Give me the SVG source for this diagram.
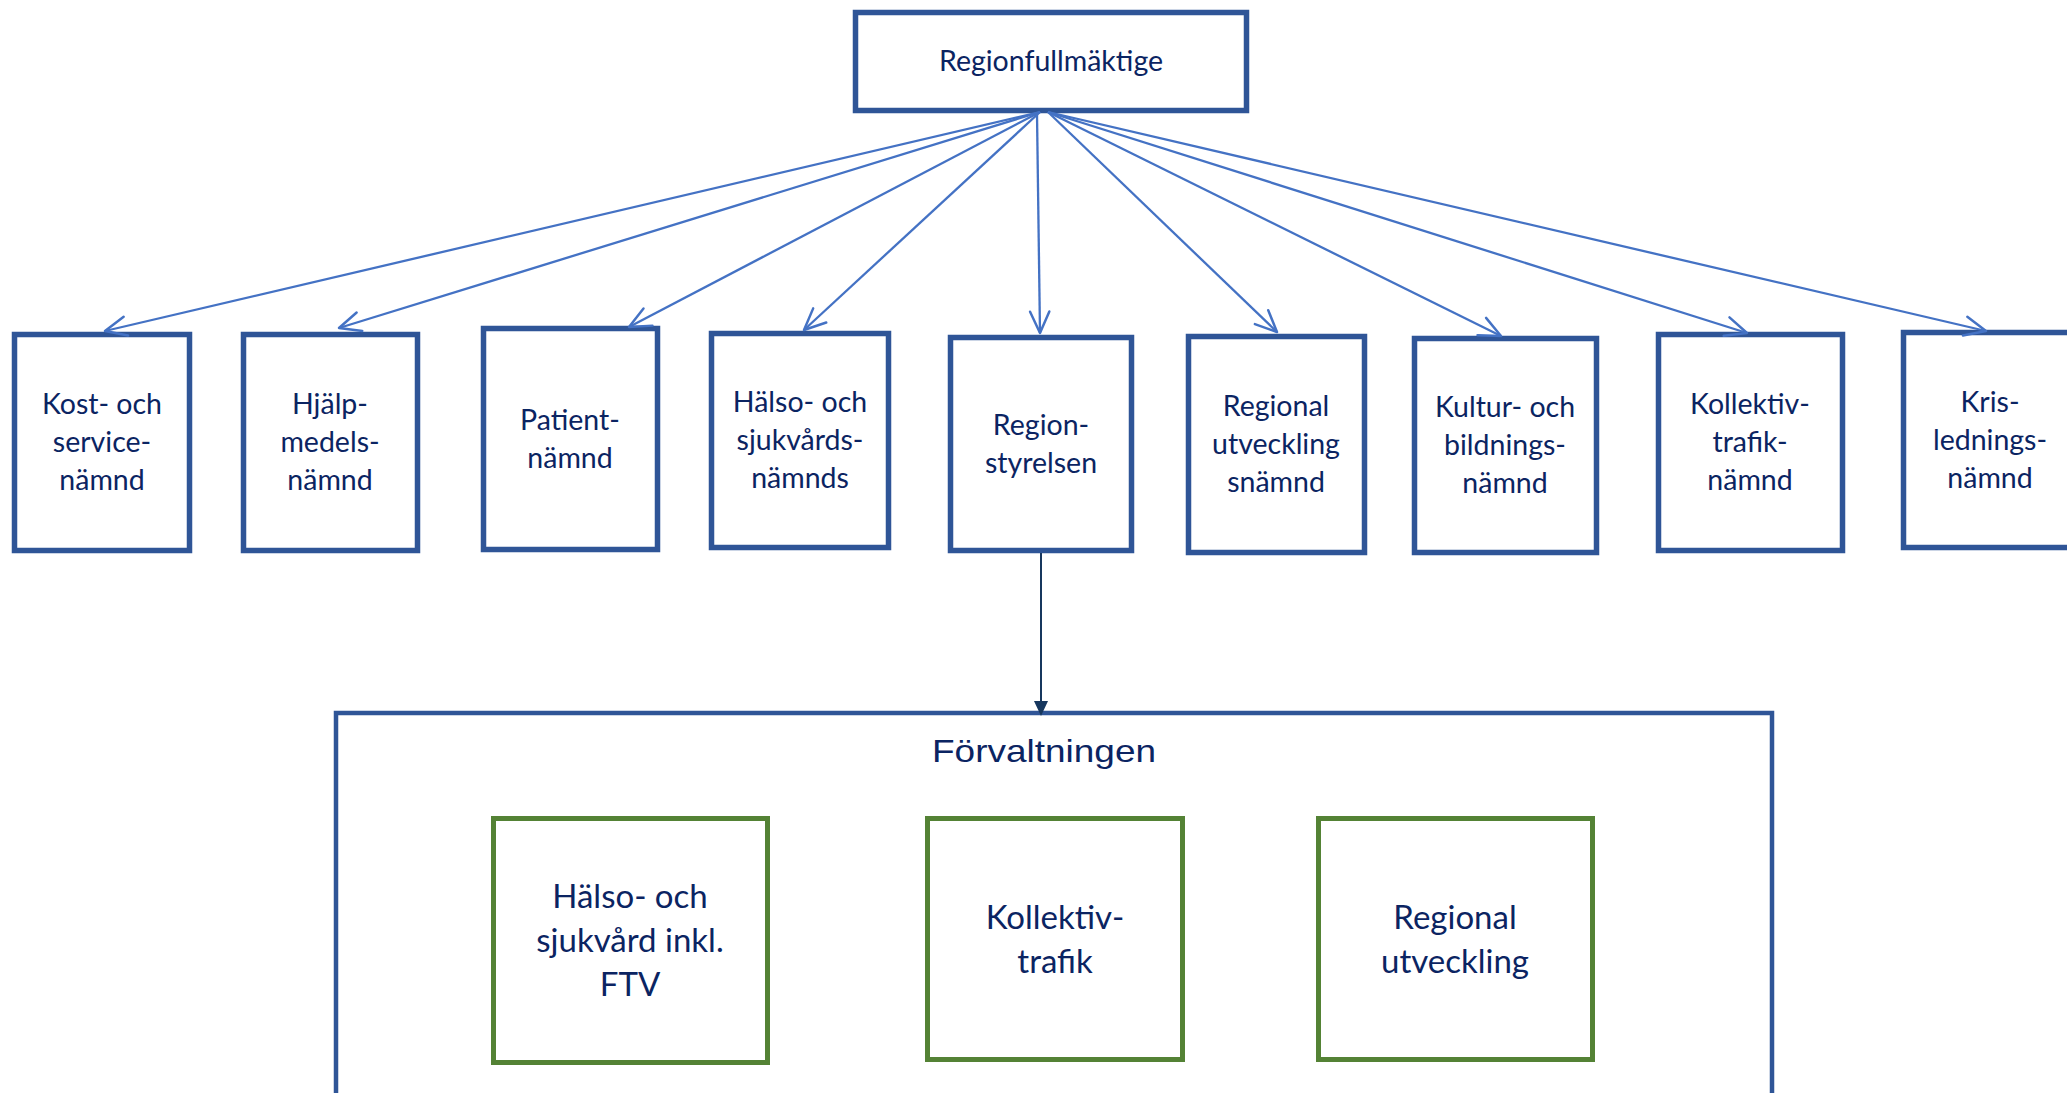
<svg xmlns="http://www.w3.org/2000/svg" width="2067" height="1093" viewBox="0 0 2067 1093">
<style>
.nb{fill:#fff;stroke:#2F5597;stroke-width:5.5}
.gb{fill:#fff;stroke:#548235;stroke-width:5}
.t{font-family:Lato,"Open Sans","Noto Sans",sans-serif;fill:#0B2462;text-anchor:middle;font-size:28.5px}
.tg{font-family:Lato,"Open Sans","Noto Sans",sans-serif;fill:#0B2462;text-anchor:middle;font-size:33px}
.c{fill:none;stroke:#4472C4;stroke-width:2.3;marker-end:url(#oa)}
</style>
<defs>
<marker id="oa" markerUnits="userSpaceOnUse" markerWidth="30" markerHeight="30" viewBox="-24 -12 28 24" refX="0" refY="0" orient="auto">
<path d="M-20,-9 L0,0 L-20,9" fill="none" stroke="#4472C4" stroke-width="2.3" stroke-linecap="round" stroke-linejoin="round"/>
</marker>
</defs>
<rect width="2067" height="1093" fill="#fff"/>
<g id="regionfullmaktige">
<rect class="nb" x="855.5" y="12.5" width="391" height="98"/>
<text class="t" x="1051" y="71">Regionfullmäktige</text>
</g>
<g id="kost">
<rect class="nb" x="14.5" y="334.5" width="175" height="216"/>
<text class="t" x="102" y="414">Kost- och</text><text class="t" x="102" y="452">service-</text><text class="t" x="102" y="490">nämnd</text>
</g>
<g id="hjalp">
<rect class="nb" x="243.5" y="334.5" width="174" height="216"/>
<text class="t" x="330" y="414">Hjälp-</text><text class="t" x="330" y="452">medels-</text><text class="t" x="330" y="490">nämnd</text>
</g>
<g id="patient">
<rect class="nb" x="483.5" y="328.5" width="174" height="221"/>
<text class="t" x="570" y="430">Patient-</text><text class="t" x="570" y="468">nämnd</text>
</g>
<g id="halso">
<rect class="nb" x="711.5" y="333.5" width="177" height="214"/>
<text class="t" x="800" y="412">Hälso- och</text><text class="t" x="800" y="450">sjukvårds-</text><text class="t" x="800" y="488">nämnds</text>
</g>
<g id="regionstyrelsen">
<rect class="nb" x="950.5" y="337.5" width="181" height="213"/>
<text class="t" x="1041" y="435">Region-</text><text class="t" x="1041" y="473">styrelsen</text>
</g>
<g id="regionalutv">
<rect class="nb" x="1188.5" y="336.5" width="176" height="216"/>
<text class="t" x="1276" y="416">Regional</text><text class="t" x="1276" y="454">utveckling</text><text class="t" x="1276" y="492">snämnd</text>
</g>
<g id="kultur">
<rect class="nb" x="1414.5" y="338.5" width="182" height="214"/>
<text class="t" x="1505" y="417">Kultur- och</text><text class="t" x="1505" y="455">bildnings-</text><text class="t" x="1505" y="493">nämnd</text>
</g>
<g id="kollektiv">
<rect class="nb" x="1658.5" y="334.5" width="184" height="216"/>
<text class="t" x="1750" y="414">Kollektiv-</text><text class="t" x="1750" y="452">trafik-</text><text class="t" x="1750" y="490">nämnd</text>
</g>
<g id="kris">
<rect class="nb" x="1903.5" y="332.5" width="177" height="215"/>
<text class="t" x="1990" y="412">Kris-</text><text class="t" x="1990" y="450">lednings-</text><text class="t" x="1990" y="488">nämnd</text>
</g>
<g id="forvaltningen">
<rect fill="#fff" stroke="#2F5597" stroke-width="4.5" x="336" y="713" width="1436" height="420"/>
<text x="1044" y="762" font-family="'Liberation Sans',Arial,sans-serif" font-size="32" fill="#0B2462" text-anchor="middle" textLength="224" lengthAdjust="spacingAndGlyphs">Förvaltningen</text>
</g>
<g id="hs">
<rect class="gb" x="493.5" y="818.5" width="274" height="244"/>
<text class="tg" x="630" y="908">Hälso- och</text><text class="tg" x="630" y="952">sjukvård inkl.</text><text class="tg" x="630" y="996">FTV</text>
</g>
<g id="kt">
<rect class="gb" x="927.5" y="818.5" width="255" height="241"/>
<text class="tg" x="1055" y="929">Kollektiv-</text><text class="tg" x="1055" y="973">trafik</text>
</g>
<g id="ru">
<rect class="gb" x="1318.5" y="818.5" width="274" height="241"/>
<text class="tg" x="1455" y="929">Regional</text><text class="tg" x="1455" y="973">utveckling</text>
</g>
<g id="connectors">
<line class="c" x1="1040" y1="112" x2="105" y2="331"/>
<line class="c" x1="1040" y1="112" x2="339" y2="328"/>
<line class="c" x1="1040" y1="112" x2="629" y2="327"/>
<line class="c" x1="1040" y1="112" x2="804" y2="330"/>
<line class="c" x1="1037" y1="114" x2="1040" y2="333"/>
<line class="c" x1="1048" y1="112" x2="1277" y2="332"/>
<line class="c" x1="1048" y1="112" x2="1501" y2="336"/>
<line class="c" x1="1048" y1="112" x2="1747" y2="333"/>
<line class="c" x1="1048" y1="112" x2="1986" y2="331"/>
<line x1="1041" y1="553" x2="1041" y2="703" stroke="#17375E" stroke-width="2"/>
<polygon points="1034,701 1048,701 1041,716" fill="#17375E"/>
</g>
</svg>
